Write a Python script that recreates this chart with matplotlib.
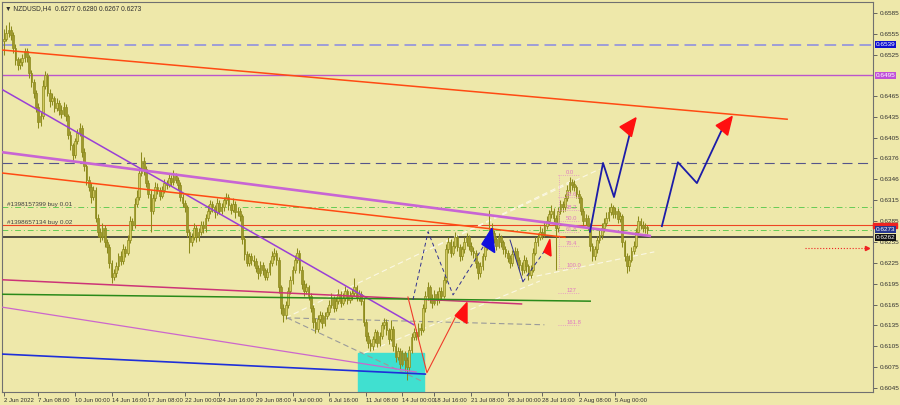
import numpy as np
import matplotlib
matplotlib.use('Agg')
import matplotlib.pyplot as plt
from matplotlib.patches import Polygon, Rectangle

plt.rcParams['font.family'] = ['Liberation Sans Narrow', 'Liberation Sans', 'DejaVu Sans']
plt.rcParams['font.size'] = 5

# NZDUSD H4 candles, prices in pips (x 1e-4)
first_open = 6545
closes = [
    6548, 6556, 6560, 6553, 6535, 6518, 6510, 6514, 6520, 6530,
    6522, 6498, 6485, 6470, 6450, 6428, 6436, 6480, 6495, 6470,
    6458, 6462, 6448, 6455, 6445, 6440, 6450, 6436, 6410, 6395,
    6380, 6400, 6412, 6420, 6385, 6365, 6345, 6335, 6320, 6330,
    6290, 6270, 6262, 6275, 6255, 6248, 6225, 6205, 6210, 6220,
    6235, 6228, 6245, 6240, 6258, 6285, 6280, 6310, 6320, 6355,
    6372, 6360, 6340, 6325, 6300, 6318, 6335, 6330, 6322, 6330,
    6340, 6338, 6348, 6342, 6350, 6345, 6338, 6320, 6312, 6305,
    6270, 6255, 6262, 6275, 6262, 6270, 6280, 6275, 6290, 6300,
    6310, 6305, 6298, 6312, 6300, 6305, 6315, 6320, 6308, 6302,
    6310, 6298, 6300, 6292, 6260, 6238, 6225, 6235, 6230, 6228,
    6218, 6210, 6222, 6215, 6205, 6212, 6225, 6235, 6240, 6230,
    6190, 6160, 6150, 6165, 6185, 6200, 6215, 6230, 6240, 6215,
    6195, 6185, 6190, 6178, 6160, 6140, 6130, 6145, 6150, 6138,
    6148, 6155, 6165, 6175, 6160, 6170, 6180, 6168, 6175, 6185,
    6172, 6178, 6182, 6190, 6175, 6180, 6170, 6140, 6120, 6110,
    6105, 6115, 6125, 6110, 6120, 6135, 6140, 6128, 6115, 6130,
    6105, 6090, 6098, 6080, 6095, 6085, 6075, 6100, 6118, 6125,
    6120, 6132, 6128, 6160, 6178, 6190, 6175, 6168, 6180, 6172,
    6185, 6178, 6200, 6245, 6255, 6240, 6250, 6262, 6248, 6235,
    6245, 6255, 6262, 6250, 6242, 6240, 6225, 6210, 6220, 6235,
    6248, 6258, 6275, 6268, 6260, 6250, 6262, 6255, 6245, 6240,
    6232, 6225, 6238, 6242, 6230, 6222, 6215, 6230, 6220, 6208,
    6215, 6240, 6255, 6262, 6270, 6265, 6278, 6285, 6295, 6300,
    6290, 6275, 6300, 6310, 6305, 6318, 6330, 6342, 6338, 6335,
    6325, 6318, 6300, 6285, 6290, 6278, 6250, 6235, 6245, 6258,
    6265, 6275, 6282, 6290, 6298, 6305, 6295, 6300, 6288, 6292,
    6255, 6235, 6220, 6230, 6242, 6250, 6270, 6285, 6280, 6275,
    6277, 6273,
]
highs = [
    6562, 6568, 6572, 6566, 6558, 6540, 6522, 6520, 6526, 6535,
    6534, 6525, 6503, 6490, 6474, 6455, 6442, 6488, 6502, 6498,
    6475, 6470, 6466, 6462, 6460, 6452, 6457, 6454, 6440, 6415,
    6398, 6405, 6418, 6427, 6424, 6390, 6368, 6350, 6340, 6336,
    6334, 6295, 6276, 6282, 6280, 6260, 6252, 6230, 6216, 6226,
    6240, 6242, 6252, 6250, 6265, 6292, 6290, 6318, 6330, 6362,
    6385, 6378, 6364, 6345, 6330, 6324, 6342, 6340, 6334, 6336,
    6346, 6345, 6354, 6352, 6359, 6355, 6349, 6342, 6325, 6316,
    6308, 6274, 6268, 6282, 6280, 6276, 6286, 6285, 6296, 6308,
    6316, 6314, 6309, 6318, 6315, 6312, 6320, 6326, 6324, 6312,
    6318, 6314, 6306, 6304, 6295, 6264, 6242, 6240, 6240, 6236,
    6232, 6222, 6228, 6226, 6218, 6218, 6230, 6242, 6247, 6244,
    6234, 6194, 6166, 6170, 6190, 6206, 6220, 6236, 6246, 6244,
    6220, 6200, 6196, 6194, 6182, 6164, 6146, 6150, 6156, 6154,
    6154, 6162, 6172, 6182, 6178, 6176, 6188, 6184, 6182, 6192,
    6188, 6184, 6188, 6203, 6194, 6186, 6184, 6174, 6145, 6125,
    6115, 6120, 6130, 6128, 6126, 6140, 6146, 6144, 6132, 6143,
    6134, 6110, 6104, 6102, 6100, 6098, 6090, 6105, 6124, 6132,
    6130, 6138, 6138, 6166, 6185, 6197, 6194, 6180, 6186, 6184,
    6190, 6190, 6206, 6252, 6262, 6260, 6256, 6270, 6266, 6252,
    6250, 6262, 6268, 6266, 6255, 6248, 6244, 6228, 6226, 6240,
    6254, 6264, 6301, 6282, 6272, 6264, 6268, 6266, 6258, 6250,
    6244, 6236, 6244, 6248, 6246, 6234, 6226, 6236, 6234, 6224,
    6222, 6246, 6262, 6268, 6278, 6276, 6285, 6292, 6302, 6308,
    6304, 6294, 6306, 6316, 6314, 6324, 6338, 6349, 6346, 6344,
    6338, 6330, 6322, 6304, 6296, 6294, 6282, 6254, 6250, 6264,
    6272, 6282, 6290, 6298, 6305, 6312, 6309, 6306, 6304, 6298,
    6296, 6258, 6240, 6236, 6248, 6256, 6276, 6292, 6290, 6286,
    6282, 6280,
]
lows = [
    6525, 6544, 6550, 6546, 6528, 6510, 6503, 6504, 6508, 6515,
    6515, 6492, 6478, 6462, 6442, 6420, 6422, 6432, 6475, 6465,
    6450, 6452, 6442, 6444, 6438, 6434, 6436, 6430, 6404, 6388,
    6372, 6376, 6396, 6408, 6378, 6358, 6338, 6328, 6312, 6315,
    6284, 6262, 6255, 6258, 6248, 6240, 6218, 6196, 6200, 6205,
    6215, 6222, 6224, 6234, 6236, 6254, 6272, 6276, 6305, 6316,
    6350, 6352, 6335, 6318, 6270, 6295, 6314, 6324, 6315, 6318,
    6326, 6332, 6334, 6336, 6338, 6340, 6330, 6314, 6306, 6298,
    6262, 6240, 6250, 6258, 6255, 6256, 6265, 6268, 6270, 6285,
    6295, 6298, 6290, 6294, 6295, 6296, 6300, 6310, 6302, 6295,
    6298, 6290, 6292, 6285, 6252, 6230, 6220, 6220, 6222, 6220,
    6212, 6202, 6206, 6208, 6200, 6200, 6208, 6220, 6230, 6222,
    6182, 6152, 6140, 6145, 6160, 6180, 6195, 6210, 6225, 6210,
    6188, 6178, 6180, 6172, 6154, 6132, 6124, 6126, 6140, 6132,
    6134, 6144, 6150, 6160, 6154, 6156, 6166, 6162, 6164, 6170,
    6166, 6168, 6172, 6178, 6170, 6170, 6164, 6134, 6112, 6102,
    6098, 6100, 6110, 6104, 6106, 6116, 6130, 6122, 6108, 6112,
    6098, 6082, 6085, 6072, 6076, 6070, 6057, 6070, 6096, 6114,
    6114, 6116, 6122, 6125, 6155, 6172, 6168, 6160, 6164, 6165,
    6168, 6172, 6174, 6196, 6240, 6234, 6236, 6246, 6242, 6228,
    6230, 6240, 6250, 6244, 6236, 6232, 6218, 6202, 6205, 6215,
    6230, 6244, 6252, 6262, 6254, 6244, 6246, 6248, 6238, 6234,
    6226, 6218, 6220, 6232, 6224, 6215, 6208, 6210, 6212, 6200,
    6204, 6212, 6236, 6250, 6258, 6260, 6262, 6274, 6280, 6290,
    6284, 6215, 6270, 6296, 6298, 6300, 6314, 6326, 6330, 6328,
    6318, 6312, 6294, 6278, 6280, 6272, 6242, 6228, 6230, 6240,
    6254, 6260, 6270, 6278, 6285, 6294, 6290, 6290, 6282, 6284,
    6248, 6228, 6210, 6214, 6226, 6238, 6246, 6265, 6274, 6270,
    6268, 6267,
]

# x axis labels (bar index of each label)
date_ticks = [0, 15, 31, 47, 63, 79, 94, 110, 126, 142, 158, 174, 188, 204, 220, 235, 251, 267]
date_labels = ['2 Jun 2022', '7 Jun 08:00', '10 Jun 00:00', '14 Jun 16:00', '17 Jun 08:00',
               '22 Jun 00:00', '24 Jun 16:00', '29 Jun 08:00', '4 Jul 00:00', '6 Jul 16:00',
               '11 Jul 08:00', '14 Jul 00:00', '18 Jul 16:00', '21 Jul 08:00', '26 Jul 00:00',
               '28 Jul 16:00', '2 Aug 08:00', '5 Aug 00:00']
price_ticks = [6585, 6555, 6525, 6465, 6435, 6405, 6376, 6346, 6315, 6285, 6255,
               6225, 6195, 6165, 6135, 6105, 6075, 6045]

# horizontal levels
hline_lavender = 6539
hline_purple = 6495
hline_slate = 6369
order1_level = 6306
order2_level = 6279
order2_green = 6272
black_level = 6262
bid_price = 6273

# trend lines: (bar0, price0, bar1, price1)
orange_long = (-2, 6532, 342, 6432)
purple_steep = (-2, 6477, 179, 6136)
orchid_thick = (-2, 6385, 282, 6264)
orange_short = (-2, 6355, 245, 6262)
crimson_line = (-2, 6201, 226, 6166)
green_line = (-2, 6180, 256, 6170)
orchid_thin = (-2, 6162, 180, 6068)
blue_line = (-2, 6094, 184, 6065)

# cyan zone
zone_bars = (154.6, 183.4)
zone_prices = (6030, 6095)

# grey / white dashed construction lines
grey_lines = [(123, 6146, 236, 6136), (123.6, 6146, 183, 6054)]
white_lines = [(123, 6146, 249, 6345), (157, 6095, 234, 6199), (225, 6201, 284, 6241),
               (186, 6245, 260, 6360)]

# projection paths
navy_dash1_x = [178.6, 185.2, 196.1, 210.9]
navy_dash1_y = [6172, 6270, 6179, 6257]
navy_thin_x = [221, 226.6]
navy_thin_y = [6258, 6198]
navy_dash2_x = [226.6, 237.1]
navy_dash2_y = [6198, 6247]
red_path_x = [176.4, 184.7, 197]
red_path_y = [6176, 6067, 6146]
proj1_x = [255.9, 261.6, 266.4, 273.2]
proj1_y = [6270, 6369, 6320, 6410]
proj2_x = [287.3, 294.3, 302.6, 313.8]
proj2_y = [6278, 6370, 6340, 6419]

# triangles / arrowheads
red_tri_big = [(197, 6149), (202.2, 6168), (202.2, 6138)]
blue_tri = [(208.7, 6252), (213.1, 6275), (214.3, 6240)]
red_tri_small = [(235.8, 6241), (238.4, 6259), (238.9, 6235)]
arrow_head1 = [(276.0, 6434), (269.0, 6421), (274.0, 6407)]
arrow_head2 = [(318.0, 6436), (311.0, 6423), (316.0, 6409)]

# red dotted target line
target_bars = (350, 377)
target_price = 6247

# fibonacci
fib_top = 6352
fib_bottom = 6218
fib_levels = [0.0, 23.6, 38.2, 50.0, 61.8, 76.4, 100.0, 127.0, 161.8]
fib_bar = 242.5

BG = '#eee8aa'
P = 1e-4

opens = [first_open] + closes[:-1]
x = np.arange(len(closes))
o = np.array(opens) * P
c = np.array(closes) * P
h = np.array(highs) * P
l = np.array(lows) * P

fig = plt.figure(figsize=(9, 4.05), dpi=100, facecolor=BG)
ax = fig.add_axes([2 / 900, 13 / 405, 871 / 900, 390 / 405])
ax.set_facecolor(BG)
ax.set_xlim(-0.87, 379.5)
ax.set_ylim(6039.2 * P, 6600.8 * P)


def seg(line, **kw):
    ax.plot([line[0], line[2]], [line[1] * P, line[3] * P], **kw)


# horizontal levels
ax.axhline(hline_lavender * P, color='#9d9dd8', lw=1.4, ls=(0, (6, 3)), zorder=1)
ax.axhline(hline_purple * P, color='#bb55cc', lw=1.0, zorder=1)
ax.axhline(hline_slate * P, color='#55558a', lw=0.8, ls=(0, (9, 5)), zorder=1)
ax.axhline(order1_level * P, color='#66cc55', lw=0.7, ls=(0, (6, 3, 1, 3)), zorder=1)
ax.axhline(order2_level * P, color='#ee4422', lw=0.8, zorder=1)
ax.axhline(order2_green * P, color='#66cc55', lw=0.7, ls=(0, (6, 3, 1, 3)), zorder=1)
ax.axhline(black_level * P, color='#222222', lw=1.1, zorder=1)

# cyan zone
ax.add_patch(Rectangle((zone_bars[0], zone_prices[0] * P), zone_bars[1] - zone_bars[0],
                       (zone_prices[1] - zone_prices[0]) * P, color='#40e0d0', zorder=1))

# construction lines
for g in grey_lines:
    seg(g, color='#9a9a9a', lw=0.8, ls=(0, (5, 3)), zorder=1)
for w in white_lines:
    seg(w, color='#fbf8e4', lw=0.8, ls=(0, (5, 3)), zorder=1)

# candles
up = c >= o
ax.vlines(x, l, h, color='#8c8a1c', lw=0.75, zorder=2)
ax.bar(x[up], (c - o)[up], bottom=o[up], width=0.75, color='#d2c960',
       edgecolor='#8c8a1c', linewidth=0.5, zorder=3)
ax.bar(x[~up], (o - c)[~up], bottom=c[~up], width=0.75, color='#9e982c',
       edgecolor='#8c8a1c', linewidth=0.5, zorder=3)

# trend lines
seg(orange_long, color='#ff4a12', lw=1.1, zorder=4)
seg(purple_steep, color='#9a3fd6', lw=1.1, zorder=4)
seg(orchid_thick, color='#c865d4', lw=1.9, zorder=4)
seg(orange_short, color='#ff4a12', lw=1.1, zorder=4)
seg(crimson_line, color='#cc3377', lw=1.1, zorder=4)
seg(green_line, color='#2a8a1a', lw=1.1, zorder=4)
seg(orchid_thin, color='#cc66cc', lw=0.9, zorder=4)
seg(blue_line, color='#1f2fd8', lw=1.2, zorder=4)

# projections
ax.plot(navy_dash1_x, np.array(navy_dash1_y) * P, color='#303090', lw=0.7, ls=(0, (4, 3)), zorder=5)
ax.plot(navy_thin_x, np.array(navy_thin_y) * P, color='#303090', lw=0.7, zorder=5)
ax.plot(navy_dash2_x, np.array(navy_dash2_y) * P, color='#303090', lw=0.7, ls=(0, (4, 3)), zorder=5)
ax.plot(red_path_x, np.array(red_path_y) * P, color='#ee3b2b', lw=0.8, zorder=5)
ax.plot(proj1_x, np.array(proj1_y) * P, color='#1c1ca8', lw=1.3, zorder=5)
ax.plot(proj2_x, np.array(proj2_y) * P, color='#1c1ca8', lw=1.3, zorder=5)

for tri, col in [(red_tri_big, '#ff1010'), (blue_tri, '#1010dd'), (red_tri_small, '#ff1010'),
                 (arrow_head1, '#ff1010'), (arrow_head2, '#ff1010')]:
    ax.add_patch(Polygon([(a, b * P) for a, b in tri], closed=True, color=col, zorder=6))

# red dotted target
ax.plot(target_bars, [target_price * P] * 2, color='#ee2222', lw=0.8, ls=':', zorder=5)
ax.plot([target_bars[1]], [target_price * P], marker='>', ms=3, color='#ee2222', zorder=5)

# fibonacci levels
fib_prices = [fib_top - f / 100 * (fib_top - fib_bottom) for f in fib_levels]
ax.plot([fib_bar, fib_bar], [fib_top * P, fib_bottom * P], color='#e58fc8', lw=0.6, ls=':', zorder=5)
for f, p in zip(fib_levels, fib_prices):
    ax.plot([fib_bar - 0.5, fib_bar + 9], [p * P, p * P], color='#e58fc8', lw=0.6, ls=':', zorder=5)
    ax.text(fib_bar + 3, p * P, '%.1f' % f if f != 127.0 else '127', color='#e07ac0',
            fontsize=4.2, ha='left', va='bottom', zorder=6)

# texts
ax.text(0.004, 0.993, '\u25bc NZDUSD,H4  0.6277 0.6280 0.6267 0.6273', transform=ax.transAxes,
        fontsize=4.8, color='#303030', va='top', ha='left')
ax.text(1.5, order1_level * P, '#1398157399 buy 0.01', fontsize=4.6, color='#404040',
        va='bottom', ha='left')
ax.text(1.5, order2_level * P, '#1398657134 buy 0.02', fontsize=4.6, color='#404040',
        va='bottom', ha='left')

# axes styling
for side in ['left', 'top', 'right', 'bottom']:
    ax.spines[side].set_color('#707070')
    ax.spines[side].set_linewidth(0.8)
ax.yaxis.tick_right()
ax.set_yticks([p * P for p in price_ticks])
ax.set_yticklabels(['%.4f' % (p * P) for p in price_ticks])
ax.tick_params(axis='y', length=3, width=0.6, colors='#505050', labelsize=4.6, pad=1.5,
               labelcolor='#303030')
ax.set_xticks(date_ticks)
ax.set_xticklabels(date_labels)
for t in ax.get_xticklabels():
    t.set_horizontalalignment('left')
ax.tick_params(axis='x', length=3, width=0.6, colors='#505050', labelsize=4.3, pad=1.5,
               labelcolor='#303030')

# price labels on the right axis
ytr = ax.get_yaxis_transform()
ax.add_patch(Rectangle((1.0, (order2_level - 3) * P), 0.028, 6 * P, transform=ytr,
                       color='#ee2222', clip_on=False, zorder=7))
tags = [(hline_lavender, '#1010d0'), (hline_purple, '#c050d8'),
        (bid_price, '#283890'), (black_level, '#111111')]
for p, fc in tags:
    ax.text(1.003, p * P, '%.4f' % (p * P), transform=ytr, fontsize=4.6, color='white',
            va='center', ha='left', clip_on=False, zorder=8,
            bbox=dict(boxstyle='square,pad=0.15', fc=fc, ec='none'))

fig.savefig('out.png', dpi=100, facecolor=BG)
